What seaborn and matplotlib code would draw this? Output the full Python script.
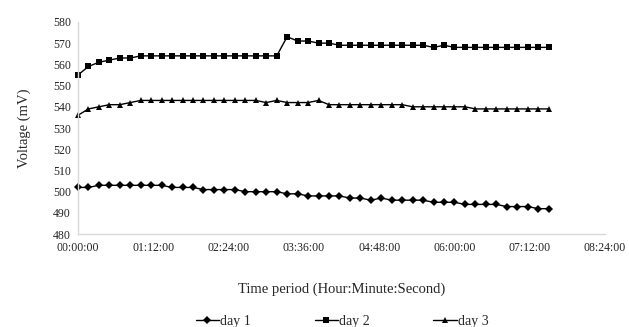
import numpy as np
import pandas as pd
import matplotlib
matplotlib.use("Agg")
import matplotlib.pyplot as plt
import seaborn as sns

# readings every 10 minutes, 00:00:00 to 07:30:00
minutes = list(range(0, 460, 10))

day1 = [502, 502, 503, 503, 503, 503, 503, 503, 503, 502,
        502, 502, 501, 501, 501, 501, 500, 500, 500, 500,
        499, 499, 498, 498, 498, 498, 497, 497, 496, 497,
        496, 496, 496, 496, 495, 495, 495, 494, 494, 494,
        494, 493, 493, 493, 492, 492]
day2 = [555, 559, 561, 562, 563, 563, 564, 564, 564, 564,
        564, 564, 564, 564, 564, 564, 564, 564, 564, 564,
        573, 571, 571, 570, 570, 569, 569, 569, 569, 569,
        569, 569, 569, 569, 568, 569, 568, 568, 568, 568,
        568, 568, 568, 568, 568, 568]
day3 = [536, 539, 540, 541, 541, 542, 543, 543, 543, 543,
        543, 543, 543, 543, 543, 543, 543, 543, 542, 543,
        542, 542, 542, 543, 541, 541, 541, 541, 541, 541,
        541, 541, 540, 540, 540, 540, 540, 540, 539, 539,
        539, 539, 539, 539, 539, 539]

series_names = ["day 1", "day 2", "day 3"]
tick_minutes = [0, 72, 144, 216, 288, 360, 432, 504]
tick_labels = ["00:00:00", "01:12:00", "02:24:00", "03:36:00",
               "04:48:00", "06:00:00", "07:12:00", "08:24:00"]

df = pd.DataFrame({
    "minute": minutes * 3,
    "voltage": day1 + day2 + day3,
    "series": np.repeat(series_names, len(minutes)),
})

sns.set_style("white")
plt.rcParams["font.family"] = ["Liberation Serif", "DejaVu Serif"]

fig = plt.figure(figsize=(6.29, 3.27), dpi=100)
ax = fig.add_axes([0.124, 0.284, 0.838, 0.649])

sns.lineplot(data=df, x="minute", y="voltage", hue="series", style="series",
             palette=["black"] * 3, markers={"day 1": "D", "day 2": "s", "day 3": "^"},
             dashes=False, markersize=4.5, linewidth=1, markeredgewidth=0,
             ax=ax, legend=True)
for ln in ax.lines:
    ln.set_clip_on(False)

ax.set_xlim(0, 504)
ax.set_ylim(480, 580)
ax.set_xticks(tick_minutes)
ax.set_xticklabels(tick_labels)
ax.set_yticks(range(480, 581, 10))
ax.tick_params(axis="both", labelsize=8.5, length=0, colors="#222222")
ax.tick_params(axis="x", pad=6)
ax.tick_params(axis="y", pad=5)

for side in ["top", "right"]:
    ax.spines[side].set_visible(False)
for side in ["left", "bottom"]:
    ax.spines[side].set_color("#d9d9d9")
    ax.spines[side].set_linewidth(1)

ax.set_xlabel("Time period (Hour:Minute:Second)", fontsize=10.5, labelpad=20)
ax.set_ylabel("Voltage (mV)", fontsize=10.5, labelpad=16)

handles, labels = ax.get_legend_handles_labels()
ax.get_legend().remove()
fig.legend(handles, labels, loc="center", bbox_to_anchor=(342 / 629, 1 - 321 / 327),
           ncol=3, frameon=False, fontsize=10, handlelength=1.7,
           handletextpad=0.05, columnspacing=4.6, borderaxespad=0)

fig.savefig("out.png", dpi=100)
